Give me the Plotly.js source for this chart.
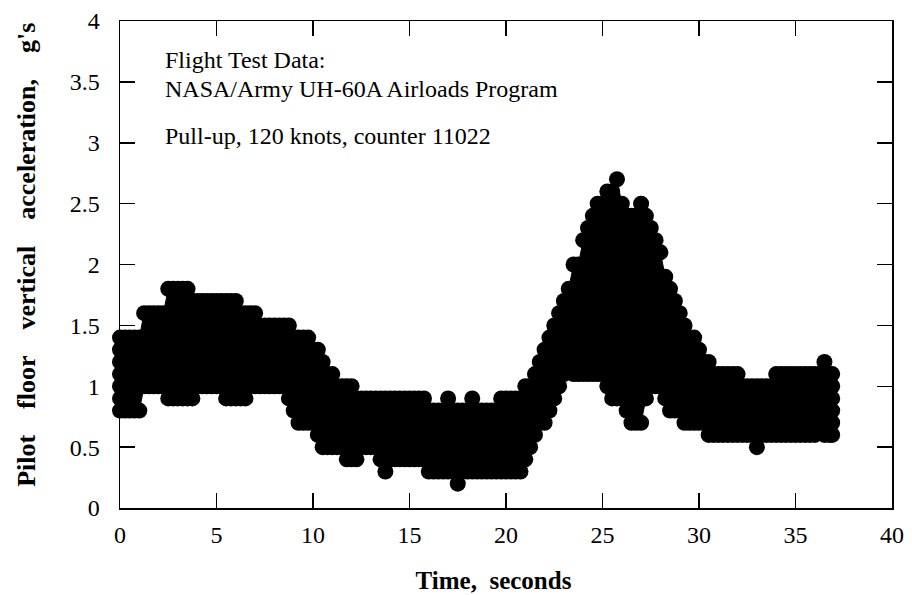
<!DOCTYPE html>
<html>
<head>
<meta charset="utf-8">
<script src="https://cdn.plot.ly/plotly-3.0.1.min.js"></script>
<style>
  html, body { margin: 0; padding: 0; background: #ffffff; }
  #chart { width: 912px; height: 595px; }
</style>
</head>
<body>
<div id="chart"></div>
<script>
// Sample times (s) of the digitised envelope of the scatter band
const time = [
  0, 0.25, 0.5, 0.75, 1, 1.25, 1.5, 1.75, 2, 2.25, 2.5, 2.75, 3, 3.25, 3.5, 3.75,
  4, 4.25, 4.5, 4.75, 5, 5.25, 5.5, 5.75, 6, 6.25, 6.5, 6.75, 7, 7.25, 7.5, 7.75,
  8, 8.25, 8.5, 8.75, 9, 9.25, 9.5, 9.75, 10, 10.25, 10.5, 10.75, 11, 11.25, 11.5, 11.75,
  12, 12.25, 12.5, 12.75, 13, 13.25, 13.5, 13.75, 14, 14.25, 14.5, 14.75, 15, 15.25, 15.5, 15.75,
  16, 16.25, 16.5, 16.75, 17, 17.25, 17.5, 17.75, 18, 18.25, 18.5, 18.75, 19, 19.25, 19.5, 19.75,
  20, 20.25, 20.5, 20.75, 21, 21.25, 21.5, 21.75, 22, 22.25, 22.5, 22.75, 23, 23.25, 23.5, 23.75,
  24, 24.25, 24.5, 24.75, 25, 25.25, 25.5, 25.75, 26, 26.25, 26.5, 26.75, 27, 27.25, 27.5, 27.75,
  28, 28.25, 28.5, 28.75, 29, 29.25, 29.5, 29.75, 30, 30.25, 30.5, 30.75, 31, 31.25, 31.5, 31.75,
  32, 32.25, 32.5, 32.75, 33, 33.25, 33.5, 33.75, 34, 34.25, 34.5, 34.75, 35, 35.25, 35.5, 35.75,
  36, 36.25, 36.5, 36.75, 36.9
];
// Highest recorded acceleration (g) at each sample time
const upperG = [
  1.4, 1.4, 1.4, 1.4, 1.4, 1.6, 1.6, 1.6, 1.6, 1.6, 1.8, 1.8, 1.8, 1.8, 1.8, 1.7,
  1.7, 1.7, 1.7, 1.7, 1.7, 1.7, 1.7, 1.7, 1.7, 1.6, 1.6, 1.6, 1.6, 1.5, 1.5, 1.5,
  1.5, 1.5, 1.5, 1.5, 1.4, 1.4, 1.4, 1.4, 1.3, 1.3, 1.2, 1.1, 1.1, 1.0, 1.0, 1.0,
  1.0, 0.9, 0.9, 0.9, 0.9, 0.9, 0.9, 0.9, 0.9, 0.9, 0.9, 0.9, 0.9, 0.9, 0.9, 0.9,
  0.8, 0.8, 0.8, 0.8, 0.9, 0.8, 0.8, 0.8, 0.8, 0.9, 0.8, 0.8, 0.8, 0.8, 0.8, 0.9,
  0.9, 0.9, 0.9, 0.9, 1.0, 1.0, 1.1, 1.2, 1.3, 1.4, 1.5, 1.6, 1.7, 1.8, 2.0, 2.0,
  2.2, 2.3, 2.4, 2.5, 2.5, 2.6, 2.6, 2.7, 2.5, 2.4, 2.4, 2.4, 2.5, 2.4, 2.3, 2.2,
  2.1, 1.9, 1.8, 1.7, 1.6, 1.5, 1.4, 1.4, 1.3, 1.2, 1.2, 1.1, 1.1, 1.1, 1.1, 1.1,
  1.1, 1.0, 1.0, 1.0, 1.0, 1.0, 1.0, 1.0, 1.1, 1.1, 1.1, 1.1, 1.1, 1.1, 1.1, 1.1,
  1.1, 1.1, 1.2, 1.1, 1.1
];
// Lowest recorded acceleration (g) at each sample time
const lowerG = [
  0.8, 0.8, 0.8, 0.8, 0.8, 1.0, 1.0, 1.0, 1.0, 1.0, 0.9, 0.9, 0.9, 0.9, 0.9, 0.9,
  1.0, 1.0, 1.0, 1.0, 1.0, 1.0, 0.9, 0.9, 0.9, 0.9, 0.9, 1.0, 1.0, 1.0, 1.0, 1.0,
  1.0, 1.0, 1.0, 0.9, 0.8, 0.7, 0.7, 0.7, 0.7, 0.6, 0.5, 0.5, 0.5, 0.5, 0.5, 0.4,
  0.4, 0.4, 0.5, 0.5, 0.5, 0.5, 0.4, 0.3, 0.4, 0.4, 0.4, 0.4, 0.4, 0.4, 0.4, 0.4,
  0.3, 0.3, 0.3, 0.3, 0.3, 0.3, 0.2, 0.3, 0.3, 0.3, 0.3, 0.3, 0.3, 0.3, 0.3, 0.3,
  0.3, 0.3, 0.3, 0.3, 0.4, 0.5, 0.6, 0.7, 0.7, 0.8, 0.9, 1.0, 1.1, 1.2, 1.1, 1.1,
  1.1, 1.1, 1.1, 1.1, 1.1, 1.0, 0.9, 0.9, 0.9, 0.8, 0.7, 0.7, 0.7, 0.9, 1.0, 1.0,
  1.0, 0.9, 0.8, 0.8, 0.8, 0.7, 0.7, 0.7, 0.7, 0.7, 0.6, 0.6, 0.6, 0.6, 0.6, 0.6,
  0.6, 0.6, 0.6, 0.6, 0.5, 0.6, 0.6, 0.6, 0.6, 0.6, 0.6, 0.6, 0.6, 0.6, 0.6, 0.6,
  0.6, 0.7, 0.6, 0.6, 0.6
];
// Samples stacked in the first (t = 0) and last (t = 36.9 s) columns
const edgeColumnT = [0, 0, 0, 0, 0, 36.9, 36.9, 36.9, 36.9];
const edgeColumnG = [0.9, 1.0, 1.1, 1.2, 1.3, 0.7, 0.8, 0.9, 1.0];

const xTicks = [0, 5, 10, 15, 20, 25, 30, 35, 40];
const yTicks = [0, 0.5, 1, 1.5, 2, 2.5, 3, 3.5, 4];
const noteLines = [
  "Flight Test Data:",
  "NASA/Army UH-60A Airloads Program",
  "Pull-up, 120 knots, counter 11022"
];
const NB = "\u00A0";
const ZW = "\u200B";
const xTitle = "Time," + NB + NB + "seconds" + NB.repeat(4) + ZW;
const yTitle = ZW + NB.repeat(3) + ["Pilot", "floor", "vertical", "acceleration,", "g's"].join(NB.repeat(4));

const SERIF = "'Liberation Serif', 'Times New Roman', serif";
const dot = { symbol: "circle", size: 16, color: "#000000", line: { width: 0 } };

const traces = [
  {
    x: time, y: lowerG, type: "scatter", mode: "lines+markers",
    marker: dot, line: { width: 1, color: "#000000" }, cliponaxis: false,
    hoverinfo: "x+y", showlegend: false
  },
  {
    x: time, y: upperG, type: "scatter", mode: "lines+markers",
    marker: dot, line: { width: 1, color: "#000000" }, cliponaxis: false,
    fill: "tonexty", fillcolor: "#000000",
    hoverinfo: "x+y", showlegend: false
  },
  {
    x: edgeColumnT, y: edgeColumnG, type: "scatter", mode: "markers",
    marker: dot, cliponaxis: false, hoverinfo: "x+y", showlegend: false
  }
];

const noteY = [0.92, 0.861, 0.764];
const annotations = noteLines.map((t, i) => ({
  text: t, xref: "paper", yref: "paper", x: 0.056, y: noteY[i],
  xanchor: "left", yanchor: "middle", showarrow: false,
  font: { family: SERIF, size: 24, color: "#000000" }
}));

const axisCommon = {
  showgrid: false, zeroline: false, showline: true, linecolor: "#000000", linewidth: 1.5,
  mirror: "ticks", ticks: "inside", ticklen: 15, tickwidth: 1.5, tickcolor: "#000000",
  tickfont: { family: SERIF, size: 24, color: "#000000" }
};

const layout = {
  width: 912, height: 595,
  margin: { l: 120, r: 20, t: 21, b: 87 },
  paper_bgcolor: "#ffffff", plot_bgcolor: "#ffffff",
  showlegend: false,
  xaxis: Object.assign({}, axisCommon, {
    range: [0, 40], tickvals: xTicks, ticklabelstandoff: 5,
    title: { text: xTitle, standoff: 24, font: { family: SERIF, size: 25, color: "#000000", weight: "bold" } }
  }),
  yaxis: Object.assign({}, axisCommon, {
    range: [0, 4], tickvals: yTicks, ticklabelstandoff: 14,
    title: { text: yTitle, standoff: 26, font: { family: SERIF, size: 26, color: "#000000", weight: "bold" } }
  }),
  annotations: annotations
};

Plotly.newPlot("chart", traces, layout, { displayModeBar: false, staticPlot: true });
</script>
</body>
</html>
